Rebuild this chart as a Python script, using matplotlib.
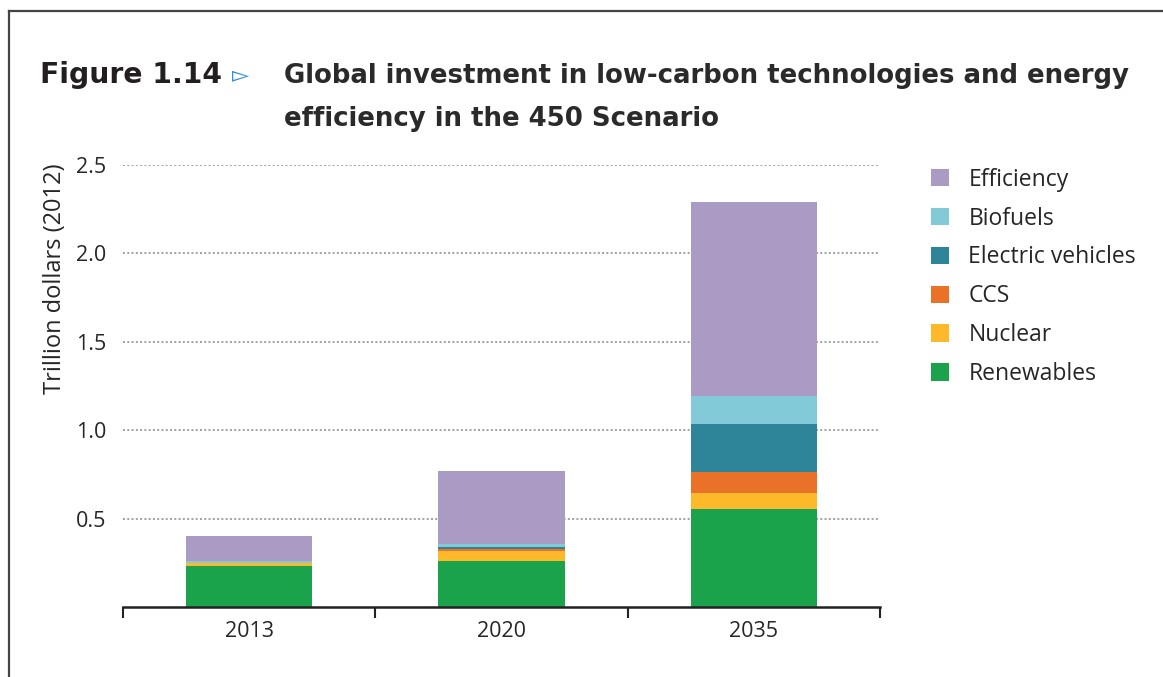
import matplotlib
matplotlib.use('Agg')
from matplotlib import pyplot as plt
from matplotlib.patches import Patch
from matplotlib.lines import Line2D
import numpy as np

# values, trillion dollars (2012)
years = ['2013', '2020', '2035']
renewables = [0.234, 0.262, 0.554]
nuclear = [0.015, 0.056, 0.089]
ccs = [0.0, 0.010, 0.122]
electric_vehicles = [0.002, 0.011, 0.268]
biofuels = [0.011, 0.016, 0.160]
efficiency = [0.140, 0.416, 1.097]

series = [
    ('Renewables', renewables, '#1aa34a'),
    ('Nuclear', nuclear, '#fdb92a'),
    ('CCS', ccs, '#e97228'),
    ('Electric vehicles', electric_vehicles, '#2e8599'),
    ('Biofuels', biofuels, '#83cad8'),
    ('Efficiency', efficiency, '#a99bc3'),
]

W, H = 1163, 677
fig = plt.figure(figsize=(W / 100, H / 100), dpi=100)
ax = fig.add_axes([123 / W, 1 - 607 / H, (880 - 123) / W, (607 - 165) / H])

txt = '#262626'
body_font = 'Open Sans'

x = np.arange(len(years))
bottom = np.zeros(len(years))
for name, vals, col in series:
    ax.bar(x, vals, width=0.5, bottom=bottom, color=col, linewidth=0, zorder=3)
    bottom += np.array(vals)

ax.set_xlim(-0.5, 2.5)
ax.set_ylim(0, 2.5)
ax.set_yticks([0.5, 1.0, 1.5, 2.0, 2.5])
ax.set_yticklabels(['0.5', '1.0', '1.5', '2.0', '2.5'])
ax.yaxis.grid(True, color='#a0a0a0', linestyle=(0, (1, 1.2)), linewidth=1.4, zorder=0)
ax.tick_params(axis='y', length=0, pad=12, labelsize=15.5, labelcolor=txt)

# boundary ticks between categories, labels at bar centres
ax.set_xticks([-0.5, 0.5, 1.5, 2.5])
ax.set_xticklabels([])
ax.set_xticks(x, minor=True)
ax.set_xticklabels(years, minor=True)
ax.tick_params(axis='x', which='major', direction='out', length=8, width=1.5, color='#222222')
ax.tick_params(axis='x', which='minor', length=0, pad=10, labelsize=15.5, labelcolor=txt)

for s in ['top', 'right', 'left']:
    ax.spines[s].set_visible(False)
ax.spines['bottom'].set_linewidth(1.8)
ax.spines['bottom'].set_color('#222222')
ax.spines['bottom'].set_zorder(5)

for lab in ax.get_yticklabels() + ax.get_xticklabels(minor=True):
    lab.set_family(body_font)

fig.text(55 / W, 1 - 163 / H, 'Trillion dollars (2012)', rotation=90, ha='center', va='top',
         fontsize=17, color=txt, family=body_font)

handles = [Patch(facecolor=col, edgecolor='none', label=name) for name, vals, col in reversed(series)]
leg = fig.legend(handles=handles, loc='upper left', bbox_to_anchor=(910 / W, 1 - 147 / H),
                 frameon=False, handlelength=0.8, handleheight=0.8, handletextpad=0.85,
                 labelspacing=0.65, prop={'family': body_font, 'size': 16.5})
for t in leg.get_texts():
    t.set_color(txt)

# title block
fig.text(40 / W, 1 - 83 / H, 'Figure 1.14', fontsize=20.3, fontweight='bold', color='#231f20',
         family='DejaVu Sans', va='baseline')
fig.text(232 / W, 1 - 81 / H, '\u25bb', fontsize=16, color='#2b8fd6', family='DejaVu Sans', va='baseline')
fig.text(284 / W, 1 - 83 / H, 'Global investment in low-carbon technologies and energy',
         fontsize=18.7, fontweight='bold', color='#2a2a2a', family='DejaVu Sans', va='baseline')
fig.text(284 / W, 1 - 126 / H, 'efficiency in the 450 Scenario',
         fontsize=18.7, fontweight='bold', color='#2a2a2a', family='DejaVu Sans', va='baseline')

# page frame
fig.add_artist(Line2D([9 / W, 9 / W], [0, 1 - 11 / H], color='#444444', linewidth=1.6))
fig.add_artist(Line2D([9 / W, 1], [1 - 11 / H, 1 - 11 / H], color='#444444', linewidth=1.6))

fig.savefig('out.png', dpi=100)
